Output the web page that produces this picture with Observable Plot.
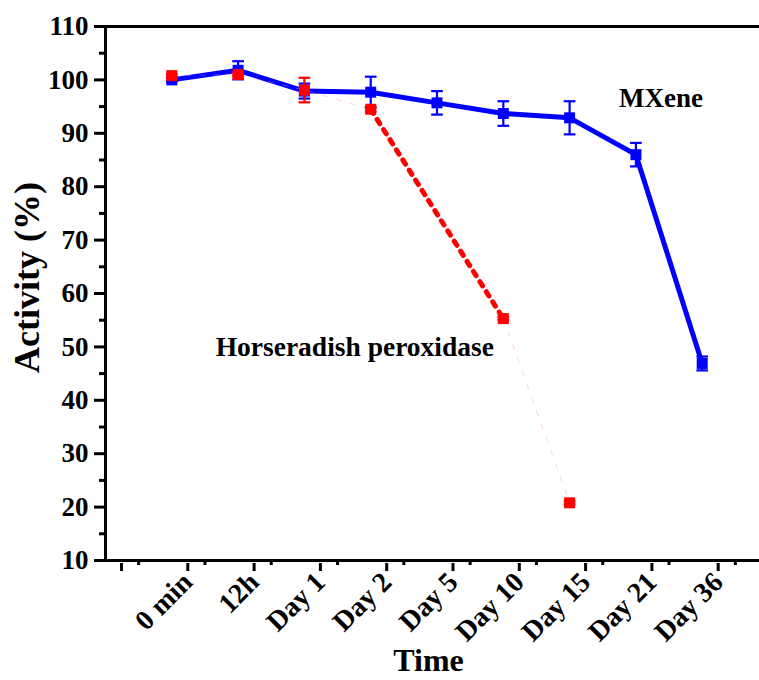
<!DOCTYPE html>
<html>
<head>
<meta charset="utf-8">
<script src="https://cdn.jsdelivr.net/npm/d3@7"></script>
<script src="https://cdn.jsdelivr.net/npm/@observablehq/plot@0.6"></script>
<style>
  html, body { margin: 0; padding: 0; background: #fff; overflow: hidden; }
  #chart { width: 759px; height: 680px; }
</style>
</head>
<body>
<div id="chart"></div>
<script>
// Sampling times shown on the x axis
const timeLabels = ["0 min", "12h", "Day 1", "Day 2", "Day 5", "Day 10", "Day 15", "Day 21", "Day 36"];

// MXene relative activity (%) and its error
const mxeneTimes = ["0 min", "12h", "Day 1", "Day 2", "Day 5", "Day 10", "Day 15", "Day 21", "Day 36"];
const mxeneActivity = [100.0, 101.8, 97.9, 97.7, 95.7, 93.7, 92.9, 86.0, 46.9];
const mxeneError = [0.3, 1.7, 1.4, 2.9, 2.2, 2.3, 3.1, 2.2, 1.3];

// Horseradish peroxidase relative activity (%) and its error
const hrpTimes = ["0 min", "12h", "Day 1", "Day 2", "Day 10", "Day 15"];
const hrpActivity = [100.8, 101.0, 98.1, 94.5, 55.3, 20.8];
const hrpError = [0.3, 0.3, 2.3, 0.4, 0.3, 0.3];

const yTicks = [10, 20, 30, 40, 50, 60, 70, 80, 90, 100, 110];

const idx = (t) => timeLabels.indexOf(t);
const mxene = mxeneTimes.map((t, k) => ({i: idx(t), v: mxeneActivity[k], e: mxeneError[k]}));
const hrp = hrpTimes.map((t, k) => ({i: idx(t), v: hrpActivity[k], e: hrpError[k]}));

// faint connectors and the bold dotted drop for HRP
const hrpFaint = [hrp.slice(0, 4), hrp.slice(4, 6)];
const hrpDrop = hrp.slice(3, 5);

const BLUE = "#0000ff", RED = "#ff0000";
const FONT = "'Liberation Serif', 'Times New Roman', serif";

// short horizontal bar used as an error-bar cap
const capSymbol = {
  draw(context, size) {
    const r = Math.sqrt(size);
    context.moveTo(-r, 0);
    context.lineTo(r, 0);
  }
};

function errorMarks(data, color) {
  return [
    Plot.ruleX(data, {x: "i", y1: (d) => d.v - d.e, y2: (d) => d.v + d.e, stroke: color, strokeWidth: 2.2}),
    Plot.dot(data, {x: "i", y: (d) => d.v + d.e, symbol: capSymbol, r: 3.3, stroke: color, strokeWidth: 2.2}),
    Plot.dot(data, {x: "i", y: (d) => d.v - d.e, symbol: capSymbol, r: 3.3, stroke: color, strokeWidth: 2.2})
  ];
}

const majorX = d3.range(-1, 10);
const minorX = d3.range(-0.5, 10, 1);
const minorY = d3.range(15, 110, 10);

const chart = Plot.plot({
  width: 759,
  height: 680,
  marginLeft: 105,
  marginRight: 0,
  marginTop: 26,
  marginBottom: 120,
  style: {fontFamily: FONT, fontWeight: "bold", background: "#fff", overflow: "visible"},
  x: {type: "linear", domain: [-1, 9], range: [105, 768]},
  y: {domain: [10, 110]},
  marks: [
    // axis lines and top border
    Plot.ruleX([-1], {stroke: "#000", strokeWidth: 3}),
    Plot.ruleY([10, 110], {stroke: "#000", strokeWidth: 3}),
    // y axis: major + minor ticks
    Plot.axisY({ticks: yTicks, tickSize: 11, tickPadding: 6, strokeWidth: 3, fontSize: 27, label: null, color: "#000"}),
    Plot.axisY({ticks: minorY, tickSize: 6, tickFormat: () => "", strokeWidth: 3, label: null}),
    // x axis: major + minor ticks
    Plot.axisX({
      ticks: majorX, tickSize: 8, strokeWidth: 3, tickRotate: -45, fontSize: 28,
      tickPadding: 6, dx: 16, dy: 3,
      tickFormat: (i) => timeLabels[i] ?? "", label: null
    }),
    Plot.axisX({ticks: minorX, tickSize: 5, strokeWidth: 3, tickFormat: () => "", label: null}),
    // axis titles
    Plot.text(["Activity (%)"], {frameAnchor: "left", textAnchor: "middle", lineAnchor: "middle", dx: -78, dy: -16, rotate: -90, fontSize: 36, fontWeight: "bold", fill: "#000"}),
    Plot.text(["Time"], {frameAnchor: "bottom", textAnchor: "middle", lineAnchor: "middle", dx: -4, dy: 100, fontSize: 32, fontWeight: "bold", fill: "#000"}),

    // MXene series
    Plot.line(mxene, {x: "i", y: "v", stroke: BLUE, strokeWidth: 5}),
    ...errorMarks(mxene, BLUE),
    Plot.dot(mxene, {x: "i", y: "v", symbol: "square", r: 6.2, fill: BLUE}),

    // Horseradish peroxidase series
    ...hrpFaint.map((seg) => Plot.line(seg, {x: "i", y: "v", stroke: "#ff8c8c", strokeOpacity: 0.4, strokeWidth: 1, strokeDasharray: "5,9"})),
    Plot.line(hrpDrop, {x: "i", y: "v", stroke: RED, strokeWidth: 5, strokeDasharray: "5,7"}),
    ...errorMarks(hrp, RED),
    Plot.dot(hrp, {x: "i", y: "v", symbol: "square", r: 6.2, fill: RED}),

    // series labels
    Plot.text(["MXene"], {x: 7.38, y: 96.5, fontSize: 27, fontWeight: "bold", fill: "#000"}),
    Plot.text(["Horseradish peroxidase"], {x: 2.76, y: 49.9, fontSize: 27.5, fontWeight: "bold", fill: "#000"})
  ]
});

document.getElementById("chart").appendChild(chart);
</script>
</body>
</html>
